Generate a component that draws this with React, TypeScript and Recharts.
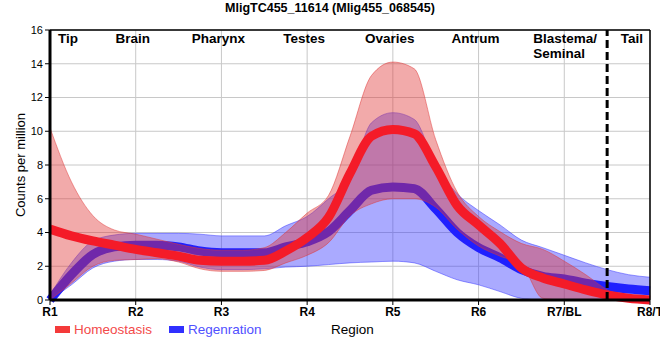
import React from 'react';
import {
  ComposedChart,
  Area,
  Line,
  XAxis,
  YAxis,
  CartesianGrid,
  ReferenceLine,
  Label,
} from 'recharts';

const regionTicks = ['R1', 'R2', 'R3', 'R4', 'R5', 'R6', 'R7/BL', 'R8/T'];
const regionNames = ['Tip', 'Brain', 'Pharynx', 'Testes', 'Ovaries', 'Antrum', 'Blastema/\nSeminal', 'Tail'];

// sample positions along the body (region index)
const positions = [
  0, 0.25, 0.5, 0.75, 1, 1.25, 1.5, 1.75, 2, 2.25, 2.5, 2.75, 3, 3.25, 3.5,
  3.75, 4, 4.25, 4.5, 4.75, 5, 5.25, 5.5, 5.75, 6, 6.25, 6.5, 6.75, 7,
];

const homeostasis = [
  4.2, 3.8, 3.5, 3.25, 3.0, 2.8, 2.6, 2.35, 2.3, 2.3, 2.35, 2.9, 3.7, 4.9, 7.5,
  9.7, 10.1, 9.85, 7.9, 5.6, 4.45, 3.35, 1.9, 1.3, 0.95, 0.6, 0.3, 0.1, 0,
];
const homeostasisLow = [
  0, 1.0, 2.0, 2.35, 2.4, 2.45, 2.25, 1.85, 1.7, 1.7, 1.75, 2.2, 2.65, 3.4, 5.0,
  5.7, 6.0, 6.0, 5.5, 4.2, 3.2, 2.6, 2.1, 0.1, 0, 0, 0, 0, 0,
];
const homeostasisHigh = [
  10.2, 7.0, 5.0, 4.15, 3.9, 3.6, 3.3, 3.05, 2.95, 2.95, 3.1, 4.0, 5.15, 6.2, 9.7,
  13.3, 14.1, 13.7, 9.5, 6.4, 4.95, 4.05, 3.35, 3.0, 2.3, 1.5, 0.6, 0.1, 0,
];

const regeneration = [
  0, 1.5, 2.7, 3.15, 3.25, 3.25, 3.15, 2.9, 2.8, 2.8, 2.8, 3.15, 3.45, 4.05, 5.3,
  6.5, 6.7, 6.6, 5.4, 4.0, 3.1, 2.5, 1.8, 1.4, 1.25, 1.0, 0.8, 0.65, 0.55,
];
const regenerationLow = [
  0, 0.9, 1.9, 2.3, 2.4, 2.4, 2.3, 1.95, 1.8, 1.8, 1.85, 1.95, 2.0, 2.1, 2.2,
  2.25, 2.3, 2.2, 1.7, 1.2, 0.9, 0.5, 0.1, 0, 0, 0, 0, 0, 0,
];
const regenerationHigh = [
  0.3, 2.2, 3.5, 3.85, 3.95, 3.95, 3.95, 3.9, 3.8, 3.8, 3.8, 4.4, 4.95, 6.0, 7.2,
  10.5, 11.1, 10.7, 8.0, 6.3, 5.3, 4.45, 3.55, 3.1, 2.65, 2.2, 1.8, 1.5, 1.35,
];

const yTicks = [0, 2, 4, 6, 8, 10, 12, 14, 16];

const rows = positions.map((x, i) => ({
  x,
  homeo: homeostasis[i],
  regen: regeneration[i],
  homeoBand: [homeostasisLow[i], homeostasisHigh[i]],
  regenBand: [regenerationLow[i], regenerationHigh[i]],
}));

const FONT = '"Liberation Sans", Arial, sans-serif';

const RegionLabel = (props: any) => {
  const { viewBox, text, anchor, dx } = props;
  const lines = String(text).split('\n');
  return (
    <text
      x={viewBox.x + dx}
      y={viewBox.y + 12.5}
      textAnchor={anchor}
      fontFamily={FONT}
      fontWeight="bold"
      fontSize={13.5}
      fill="#000"
    >
      {lines.map((l, i) => (
        <tspan key={i} x={viewBox.x + dx} dy={i === 0 ? 0 : 15}>
          {l}
        </tspan>
      ))}
    </text>
  );
};

const labelPlacement = (i: number) => {
  if (i === 0) return { anchor: 'start', dx: 8 };
  if (i === 6) return { anchor: 'start', dx: -31 };
  if (i === 7) return { anchor: 'end', dx: -7 };
  return { anchor: 'middle', dx: -3 };
};

export default function App() {
  return (
    <div style={{ position: 'absolute', left: 0, top: 0, width: 660, height: 360, background: '#fff', fontFamily: FONT }}>
      <div
        style={{
          position: 'absolute',
          left: 0,
          top: 1,
          width: 660,
          textAlign: 'center',
          fontWeight: 'bold',
          fontSize: 12.5,
        }}
      >
        MligTC455_11614 (Mlig455_068545)
      </div>
      <ComposedChart
        width={660}
        height={360}
        data={rows}
        margin={{ top: 30, right: 10, left: 0, bottom: 36 }}
        style={{ position: 'absolute', left: 0, top: 0 }}
      >
        <CartesianGrid stroke="#c8c8c8" strokeWidth={1} />
        <XAxis
          dataKey="x"
          type="number"
          domain={[0, 7]}
          ticks={[0, 1, 2, 3, 4, 5, 6, 7]}
          tickFormatter={(v: number) => regionTicks[v]}
          interval={0}
          height={24}
          axisLine={{ stroke: '#000', strokeWidth: 3 }}
          tickLine={{ stroke: '#000' }}
          tickSize={5}
          tick={{ fill: '#000', fontSize: 12, fontWeight: 'bold', fontFamily: FONT }}
        />
        <YAxis
          domain={[0, 16]}
          ticks={yTicks}
          interval={0}
          width={50}
          axisLine={{ stroke: '#000', strokeWidth: 3 }}
          tickLine={{ stroke: '#000' }}
          tickSize={5}
          tick={{ fill: '#000', fontSize: 11, fontFamily: FONT }}
        >
          <Label
            value="Counts per million"
            angle={-90}
            position="insideLeft"
            offset={20}
            style={{ textAnchor: 'middle', fontSize: 13, fill: '#000', fontFamily: FONT }}
          />
        </YAxis>

        <Area
          dataKey="regenBand"
          type="monotone"
          fill="#3535ff"
          fillOpacity={0.42}
          stroke="#3535ff"
          strokeOpacity={0.5}
          strokeWidth={1}
          isAnimationActive={false}
          activeDot={false}
        />
        {/* regeneration mean drawn in the area layer so the homeostasis band tints it */}
        <Area
          dataKey="regen"
          type="monotone"
          fill="none"
          fillOpacity={0}
          stroke="#2020ff"
          strokeWidth={9}
          isAnimationActive={false}
          activeDot={false}
        />
        <Area
          dataKey="homeoBand"
          type="monotone"
          fill="#e03535"
          fillOpacity={0.42}
          stroke="#e03535"
          strokeOpacity={0.5}
          strokeWidth={1}
          isAnimationActive={false}
          activeDot={false}
        />
        <Line
          dataKey="homeo"
          type="monotone"
          stroke="#f41b28"
          strokeWidth={9}
          dot={false}
          activeDot={false}
          isAnimationActive={false}
        />

        <ReferenceLine y={16} stroke="#000" strokeWidth={1.5} />
        <ReferenceLine x={7} stroke="#000" strokeWidth={1.5} />
        <ReferenceLine x={6.5} stroke="#000" strokeWidth={3} strokeDasharray="8 4" />

        {regionNames.map((name, i) => {
          const p = labelPlacement(i);
          return (
            <ReferenceLine
              key={name}
              x={i}
              stroke="none"
              label={<RegionLabel text={name} anchor={p.anchor} dx={p.dx} />}
            />
          );
        })}
      </ComposedChart>

      <div style={{ position: 'absolute', left: 55, top: 322, display: 'flex', alignItems: 'center', fontSize: 13.5 }}>
        <span style={{ display: 'inline-block', width: 15, height: 7, background: '#f43a3a', marginRight: 4 }} />
        <span style={{ color: '#f34a4a' }}>Homeostasis</span>
        <span style={{ display: 'inline-block', width: 15, height: 7, background: '#3030ff', marginLeft: 17, marginRight: 4 }} />
        <span style={{ color: '#5050ff' }}>Regenration</span>
      </div>
      <div style={{ position: 'absolute', left: 331, top: 322, fontSize: 13.5, color: '#000' }}>Region</div>
    </div>
  );
}
